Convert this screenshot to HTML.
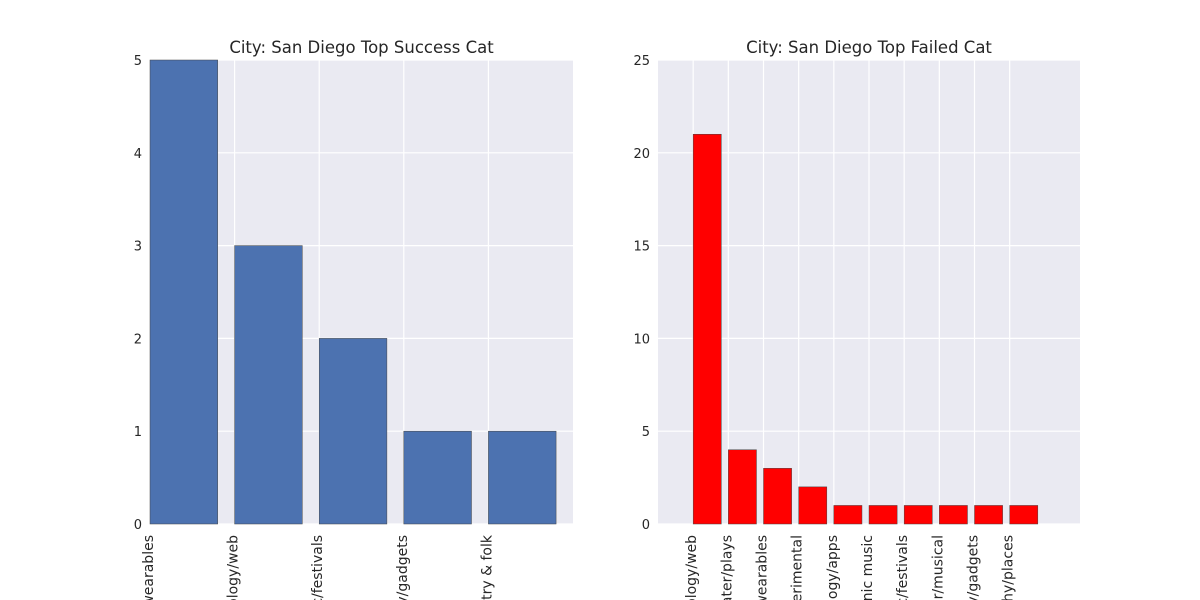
<!DOCTYPE html>
<html><head><meta charset="utf-8"><style>
body{margin:0;background:#fff;width:1200px;height:600px;overflow:hidden}
svg{display:block;overflow:hidden}
text{font-family:"DejaVu Sans","Liberation Sans",sans-serif;fill:#262626}
</style></head><body>
<svg id="svg" width="1200" height="600"></svg>
<script>
const leftCats=["Hardware/wearables","Technology/web","Music/festivals","Technology/gadgets","Music/country & folk"];
const leftVals=[5,3,2,1,1];
const leftTicks=[0,1,2,3,4,5];
const rightCats=["Technology/web","Theater/plays","Hardware/wearables","Film/experimental","Technology/apps","Electronic music","Music/festivals","Theater/musical","Technology/gadgets","Photography/places"];
const rightVals=[21,4,3,2,1,1,1,1,1,1];
const rightTicks=[0,5,10,15,20,25];
const NS="http://www.w3.org/2000/svg";
const svg=document.getElementById('svg');
function mk(t,a,p){const e=document.createElementNS(NS,t);for(const k in a)e.setAttribute(k,a[k]);(p||svg).appendChild(e);return e;}
function panel(name,x0,y0,w,h,xmin,xmax,ymax,cats,vals,ticks,color,title){
  const g=mk('g',{});
  
  
  const sx=v=>x0+(v-xmin)/(xmax-xmin)*w, sy=v=>y0+h-v/ymax*h;
  const bg=mk('rect',{x:x0,y:y0,width:w,height:h,fill:'#eaeaf2'},g);
  
  
  ticks.forEach(t=>{
    const l=mk('line',{x1:x0,x2:x0+w,y1:sy(t),y2:sy(t),stroke:'#fff','stroke-width':1.2},g);
    
    
    const tx=mk('text',{x:x0-8,y:sy(t)+5,'text-anchor':'end','font-size':13},g);tx.textContent=t;
    
    
  });
  cats.forEach((c,i)=>{
    const l=mk('line',{x1:sx(i),x2:sx(i),y1:y0,y2:y0+h,stroke:'#fff','stroke-width':1.2},g);
    
    
  });
  cats.forEach((c,i)=>{
    const r=mk('rect',{x:sx(i),y:sy(vals[i]),width:sx(i+0.8)-sx(i),height:sy(0)-sy(vals[i]),fill:color,stroke:'#444','stroke-width':0.5},g);
    
    
    const tx=mk('text',{x:0,y:0,'text-anchor':'end','font-size':14,transform:`translate(${sx(i)+3},${y0+h+11}) rotate(-90)`},g);
    tx.textContent=c;
    
    
  });
  const tt=mk('text',{x:x0+w/2,y:y0-7,'text-anchor':'middle','font-size':16.5},g);tt.textContent=title;
  
  
}
panel('success-panel',150,60,423,464,0,5,5,leftCats,leftVals,leftTicks,'#4c72b0','City: San Diego Top Success Cat');
panel('failed-panel',658,60,422,464,-1,11,25,rightCats,rightVals,rightTicks,'#ff0000','City: San Diego Top Failed Cat');
</script>
</body></html>
